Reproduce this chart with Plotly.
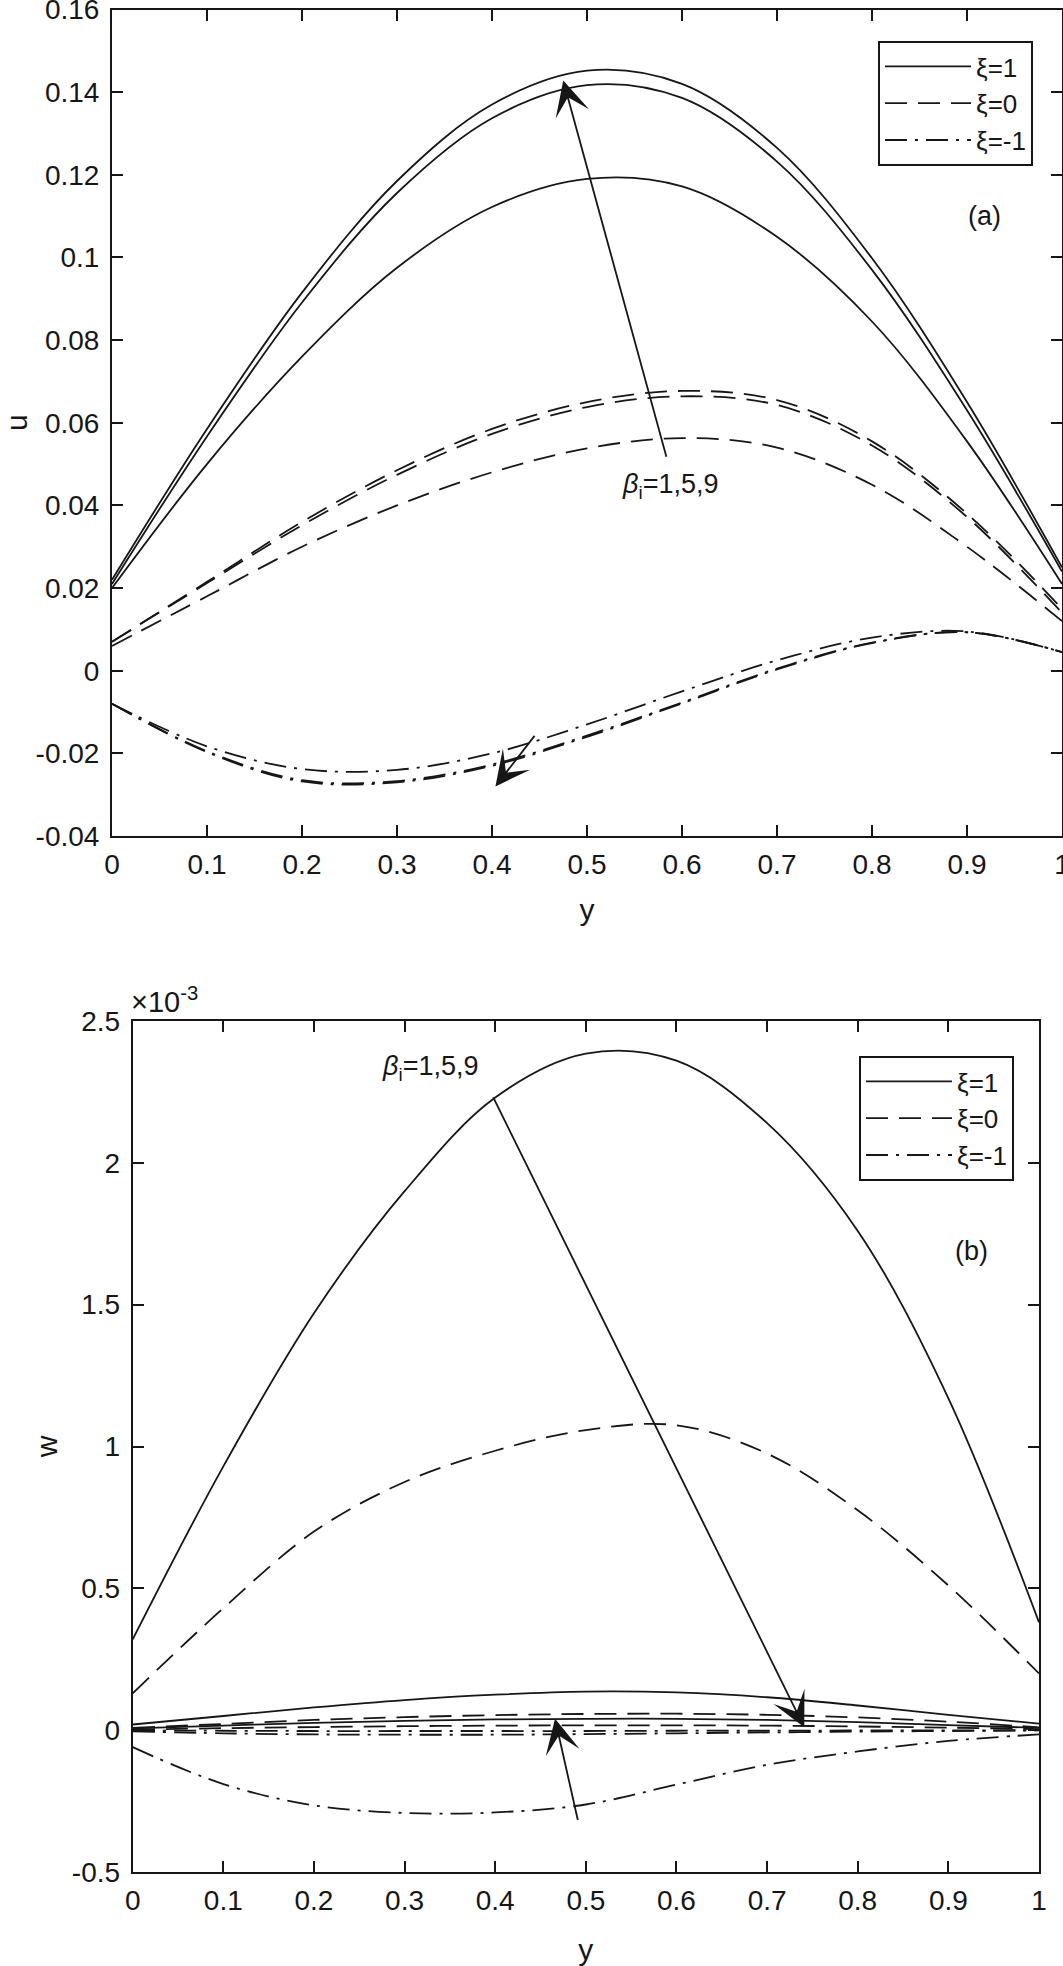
import plotly.graph_objects as go

# ---------------- data ----------------
Y_POS = [0.0, 0.1, 0.2, 0.3, 0.4, 0.5, 0.6, 0.7, 0.8, 0.9, 1.0]

X_TICKS = [0, 0.1, 0.2, 0.3, 0.4, 0.5, 0.6, 0.7, 0.8, 0.9, 1]
X_TICK_TEXT = ["0", "0.1", "0.2", "0.3", "0.4", "0.5", "0.6", "0.7", "0.8", "0.9", "1"]
U_TICKS = [-0.04, -0.02, 0, 0.02, 0.04, 0.06, 0.08, 0.1, 0.12, 0.14, 0.16]
U_TICK_TEXT = ["-0.04", "-0.02", "0", "0.02", "0.04", "0.06", "0.08", "0.1", "0.12", "0.14", "0.16"]
W_TICKS = [-0.5, 0, 0.5, 1, 1.5, 2, 2.5]          # in units of 10^-3
W_TICK_TEXT = ["-0.5", "0", "0.5", "1", "1.5", "2", "2.5"]

BETA = [1, 5, 9]
XI_LABELS = ["ξ=1", "ξ=0", "ξ=-1"]

# panel (a): u
U_XI1_B1 = [0.020, 0.050, 0.0760, 0.0975, 0.1122, 0.1190, 0.1172, 0.1050, 0.0845, 0.0555, 0.021]
U_XI1_B5 = [0.021, 0.0567, 0.0891, 0.1156, 0.1337, 0.1417, 0.1386, 0.1232, 0.0970, 0.0630, 0.024]
U_XI1_B9 = [0.022, 0.0585, 0.0915, 0.1185, 0.1370, 0.1452, 0.1420, 0.1265, 0.0998, 0.0650, 0.025]
U_XI0_B1 = [0.006, 0.0180, 0.0300, 0.0400, 0.0480, 0.0538, 0.0563, 0.0540, 0.0450, 0.0300, 0.012]
U_XI0_B5 = [0.007, 0.0212, 0.0352, 0.0474, 0.0573, 0.0638, 0.0664, 0.0643, 0.0545, 0.0372, 0.014]
U_XI0_B9 = [0.007, 0.0215, 0.0360, 0.0485, 0.0585, 0.0650, 0.0677, 0.0655, 0.0555, 0.0380, 0.015]
U_XIM1_B1 = [-0.008, -0.0183, -0.0238, -0.0240, -0.0200, -0.0130, -0.0050, 0.0025, 0.0080, 0.0095, 0.0045]
U_XIM1_B5 = [-0.008, -0.0195, -0.0265, -0.0267, -0.0227, -0.0157, -0.0077, 0.0005, 0.0068, 0.0093, 0.0045]
U_XIM1_B9 = [-0.008, -0.0197, -0.0268, -0.0270, -0.0230, -0.0160, -0.0079, 0.0003, 0.0067, 0.0093, 0.0045]

# panel (b): w, in units of 10^-3
W_XI1_B1 = [0.32, 0.93, 1.47, 1.90, 2.23, 2.385, 2.36, 2.14, 1.76, 1.17, 0.38]
W_XI1_B5 = [0.020, 0.050, 0.080, 0.106, 0.125, 0.136, 0.133, 0.116, 0.087, 0.054, 0.023]
W_XI1_B9 = [0.006, 0.016, 0.026, 0.033, 0.038, 0.040, 0.040, 0.036, 0.028, 0.018, 0.008]
W_XI0_B1 = [0.13, 0.43, 0.70, 0.875, 0.985, 1.058, 1.075, 0.975, 0.775, 0.51, 0.20]
W_XI0_B5 = [0.008, 0.022, 0.036, 0.046, 0.053, 0.057, 0.058, 0.054, 0.045, 0.030, 0.010]
W_XI0_B9 = [0.002, 0.007, 0.011, 0.014, 0.016, 0.017, 0.017, 0.016, 0.013, 0.009, 0.004]
W_XIM1_B1 = [-0.06, -0.19, -0.265, -0.292, -0.290, -0.262, -0.192, -0.122, -0.075, -0.038, -0.015]
W_XIM1_B5 = [-0.004, -0.011, -0.015, -0.016, -0.016, -0.014, -0.011, -0.008, -0.005, -0.003, -0.001]
W_XIM1_B9 = [-0.001, -0.002, -0.003, -0.003, -0.003, -0.003, -0.002, -0.002, -0.001, -0.001, 0.0]

U_SERIES = [[U_XI1_B1, U_XI1_B5, U_XI1_B9],
            [U_XI0_B1, U_XI0_B5, U_XI0_B9],
            [U_XIM1_B1, U_XIM1_B5, U_XIM1_B9]]
W_SERIES = [[W_XI1_B1, W_XI1_B5, W_XI1_B9],
            [W_XI0_B1, W_XI0_B5, W_XI0_B9],
            [W_XIM1_B1, W_XIM1_B5, W_XIM1_B9]]

# ---------------- style ----------------
FONT = "Liberation Sans, Arial, Helvetica, sans-serif"
INK = "#161616"
DASHES = ["solid", "22px,11px", "22px,8px,3px,8px"]
W_FIG, H_FIG = 1063, 1966

fig = go.Figure()

for panel, (series, xa, ya, leg) in enumerate([(U_SERIES, "x", "y", "legend"),
                                               (W_SERIES, "x2", "y2", "legend2")]):
    for k, label in enumerate(XI_LABELS):
        for j, b in enumerate(BETA):
            fig.add_trace(go.Scatter(
                x=Y_POS, y=series[k][j], mode="lines",
                name=label, legendgroup=f"{leg}-{k}", showlegend=(j == 0),
                legend=leg, xaxis=xa, yaxis=ya,
                line=dict(color=INK, width=1.8, dash=DASHES[k], shape="spline", smoothing=1.0),
                hovertemplate=f"{label}, β<sub>i</sub>={b}<br>y=%{{x}}<br>value=%{{y}}<extra></extra>",
            ))

axis_common = dict(showline=True, linecolor=INK, linewidth=2, mirror="ticks",
                   ticks="inside", ticklen=11, tickwidth=1.8, tickcolor=INK,
                   showgrid=False, zeroline=False, automargin=False,
                   ticklabeloverflow="allow",
                   tickfont=dict(size=28, family=FONT, color=INK))
title_font = dict(size=30, family=FONT, color=INK)
legend_common = dict(xanchor="right", yanchor="top", bgcolor="white", bordercolor=INK,
                     borderwidth=2, itemwidth=86, tracegroupgap=0, traceorder="normal",
                     font=dict(size=26, family=FONT, color=INK))

fig.update_layout(
    template="none",
    width=W_FIG, height=H_FIG,
    margin=dict(l=0, r=0, t=0, b=0, autoexpand=False),
    paper_bgcolor="white", plot_bgcolor="white",
    font=dict(family=FONT, color=INK, size=28),
    xaxis=dict(domain=[112 / W_FIG, 1062 / W_FIG], anchor="y", range=[0, 1],
               tickvals=X_TICKS, ticktext=X_TICK_TEXT, ticklabelstandoff=2,
               title=dict(text="y", font=title_font, standoff=20),
               **axis_common),
    yaxis=dict(domain=[1 - 836 / H_FIG, 1 - 9.5 / H_FIG], anchor="x", range=[-0.04, 0.16],
               tickvals=U_TICKS, ticktext=U_TICK_TEXT, ticklabelstandoff=5,
               title=dict(text="u", font=title_font, standoff=29),
               **axis_common),
    xaxis2=dict(domain=[132.7 / W_FIG, 1039 / W_FIG], anchor="y2", range=[0, 1],
                tickvals=X_TICKS, ticktext=X_TICK_TEXT, ticklabelstandoff=2,
                title=dict(text="y", font=title_font, standoff=24),
                **axis_common),
    yaxis2=dict(domain=[1 - 1872 / H_FIG, 1 - 1021 / H_FIG], anchor="x2", range=[-0.5, 2.5],
                tickvals=W_TICKS, ticktext=W_TICK_TEXT, ticklabelstandoff=5,
                title=dict(text="w", font=title_font, standoff=5),
                **axis_common),
    legend=dict(x=1033 / W_FIG, y=1 - 41 / H_FIG, **legend_common),
    legend2=dict(x=1014 / W_FIG, y=1 - 1056 / H_FIG, **legend_common),
)

ann_font = dict(size=27, family=FONT, color=INK)
arrow_style = dict(showarrow=True, arrowhead=3, arrowsize=3.2, arrowwidth=1.8,
                   arrowcolor=INK, standoff=0, text="")

annotations = [
    # panel (a)
    dict(x=0.918, y=0.110, xref="x", yref="y", text="(a)", showarrow=False, font=ann_font),
    dict(x=0.535, y=0.0448, xref="x", yref="y", xanchor="left", yanchor="middle",
         text="<i>β</i><sub>i</sub>=1,5,9", showarrow=False, font=ann_font),
    dict(x=0.475, y=0.1428, ax=0.584, ay=0.0514, xref="x", yref="y", axref="x", ayref="y",
         **arrow_style),
    dict(x=0.4036, y=-0.028, ax=0.446, ay=-0.0154, xref="x", yref="y", axref="x", ayref="y",
         **arrow_style),
    # panel (b)
    dict(x=0.925, y=1.689, xref="x2", yref="y2", text="(b)", showarrow=False, font=ann_font),
    dict(x=0.273, y=2.336, xref="x2", yref="y2", xanchor="left", yanchor="middle",
         text="<i>β</i><sub>i</sub>=1,5,9", showarrow=False, font=ann_font),
    dict(x=0.741, y=0.01, ax=0.397, ay=2.236, xref="x2", yref="y2", axref="x2", ayref="y2",
         **arrow_style),
    dict(x=0.466, y=0.04, ax=0.4915, ay=-0.322, xref="x2", yref="y2", axref="x2", ayref="y2",
         **arrow_style),
    # exponent label of the w axis
    dict(x=0, y=1, xref="x2 domain", yref="y2 domain", xanchor="left", yanchor="bottom",
         xshift=-4, yshift=1, text="×10<sup>-3</sup>", showarrow=False,
         font=dict(size=29, family=FONT, color=INK)),
]
fig.update_layout(annotations=annotations)

# remove the browser's default 8px page margin so the figure sits at the window origin
fig.write_html("out.html", config={"displayModeBar": False},
               post_script="document.body.style.margin='0px';")
